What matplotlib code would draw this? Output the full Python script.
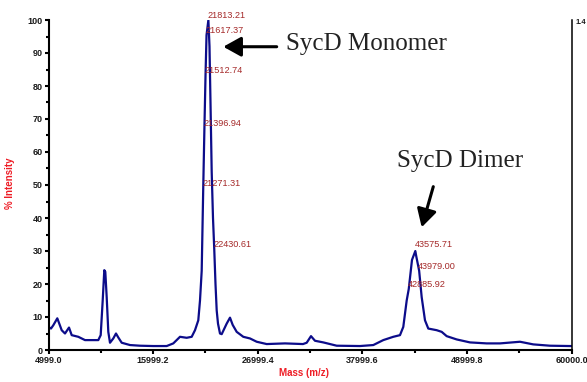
import matplotlib
matplotlib.use("Agg")
import matplotlib.pyplot as plt

# ---- data ----
mass = [4999, 5262, 5504, 5924, 6387, 6734, 7155, 7439, 8133, 8837, 9542, 10236,
        10488, 10699, 10867, 10972, 11119, 11288, 11466, 11813, 12097, 12339, 12697,
        13570, 14621, 16020, 17429, 18123, 18828, 19532, 20058, 20405, 20752, 20931,
        21110, 21271, 21397, 21513, 21617, 21813, 21930, 22035, 22161, 22298, 22431,
        22561, 22687, 22824, 23034, 23213, 23739, 24086, 24370, 24790, 25484, 26189,
        26894, 27945, 29869, 31762, 32151, 32604, 33024, 33897, 35306, 37756, 39155,
        40207, 41258, 41963, 42310, 42668, 42886, 43225, 43576, 43668, 43979, 44245,
        44592, 44939, 45822, 46348, 46874, 47925, 49324, 51080, 52478, 54582, 55980,
        57736, 59839, 60000]
intensity = [7.0, 6.5, 7.5, 9.6, 6.0, 5.0, 6.8, 4.5, 4.0, 3.0, 3.0, 3.0,
             4.5, 15.0, 24.2, 23.7, 16.0, 5.5, 2.2, 3.5, 5.0, 3.8, 2.2,
             1.5, 1.3, 1.2, 1.2, 2.0, 4.0, 3.7, 4.0, 6.0, 9.0, 15.0,
             24.0, 49.0, 67.4, 83.3, 95.4, 100.0, 92.0, 75.0, 54.0, 40.0, 30.5,
             20.0, 12.0, 8.0, 5.0, 4.8, 8.0, 9.8, 7.6, 5.5, 4.0, 3.5,
             2.5, 1.8, 2.0, 1.8, 2.2, 4.2, 2.8, 2.3, 1.3, 1.2, 1.5,
             3.0, 4.0, 4.5, 7.0, 15.0, 18.5, 27.3, 30.0, 28.5, 24.0, 16.0,
             9.0, 6.5, 6.0, 5.5, 4.2, 3.2, 2.3, 2.0, 2.0, 2.5, 1.7,
             1.3, 1.2, 1.2]

peak_masses = [21813.21, 21617.37, 21512.74, 21396.94, 21271.31, 22430.61,
               43575.71, 43979.00, 42885.92]
peak_labels = ["21813.21", "21617.37", "21512.74", "21396.94", "21271.31", "22430.61",
               "43575.71", "43979.00", "42885.92"]
peak_heights = [100.0, 95.4, 83.3, 67.4, 49.0, 30.5, 30.5, 23.9, 18.5]

x_ticks = [4999.0, 15999.2, 26999.4, 37999.6, 48999.8, 60000.0]
x_tick_labels = ["4999.0", "15999.2", "26999.4", "37999.6", "48999.8", "60000.0"]
x_minor = [10499.1, 21499.3, 32499.5, 43499.7, 54499.9]
y_ticks = [0, 10, 20, 30, 40, 50, 60, 70, 80, 90, 100]
y_minor = [5, 15, 25, 35, 45, 55, 65, 75, 85, 95]

# ---- figure ----
W, H = 587, 382
fig = plt.figure(figsize=(W / 100, H / 100), dpi=100)
left, right, top, bottom = 48.5, 571.5, 20, 350
ax = fig.add_axes([left / W, 1 - bottom / H, (right - left) / W, (bottom - top) / H])

navy = "#0c0c8a"
ax.plot(mass, intensity, color=navy, lw=1.6, solid_joinstyle="round")

ax.set_xlim(4999.0, 60000.0)
ax.set_ylim(0, 100)

for s in ["left", "bottom"]:
    ax.spines[s].set_linewidth(1.5)
    ax.spines[s].set_color("black")
ax.spines["right"].set_linewidth(1.1)
ax.spines["right"].set_color("black")
ax.spines["top"].set_visible(False)

tick_font = dict(family="Liberation Sans", weight="bold", size=6.5)
ax.set_xticks(x_ticks)
ax.set_xticklabels(x_tick_labels, **tick_font, color="#1a1a1a")
ax.set_xticks(x_minor, minor=True)
ax.set_yticks(y_ticks)
ax.set_yticklabels([str(v) for v in y_ticks], **tick_font, color="#1a1a1a")
ax.set_yticks(y_minor, minor=True)
ax.tick_params(which="major", direction="out", length=3.0, width=1.5, pad=1.0)
ax.tick_params(which="minor", direction="out", length=2.4, width=1.5)

# right side label (at the figure edge, as in the reference)
fig.text(576 / W, 1 - 23 / H, "1.4", ha="left", va="center",
         family="Liberation Sans", weight="bold", size=5.5, color="#1a1a1a")

# axis titles
fig.text(10 / W, 1 - 183 / H, "% Intensity", rotation=90, ha="center", va="center",
         color="#ee1c25", family="Liberation Sans", weight="bold", size=7)
fig.text(304 / W, 1 - 373.5 / H, "Mass (m/z)", ha="center", va="center",
         color="#ee1c25", family="Liberation Sans", weight="bold", size=7)

# peak labels
for m, lab, h in zip(peak_masses, peak_labels, peak_heights):
    ax.text(m - 100, h, lab, ha="left", va="bottom", color="#a52a2a",
            family="Liberation Sans", size=6.6, clip_on=False)

# annotations
arrow = dict(arrowstyle="-|>,head_length=0.54,head_width=0.3", mutation_scale=20,
             lw=2.2, color="black", shrinkA=0, shrinkB=0)
ax.annotate("", xy=(23381, 91.9), xytext=(28997, 91.9), arrowprops=arrow)
ax.text(29974, 92.7, "SycD Monomer", ha="left", va="center",
        family="Liberation Serif", size=18, color="#222222")
ax.annotate("", xy=(44245, 37.2), xytext=(45465, 49.5), arrowprops=arrow)
ax.text(41679, 57.3, "SycD Dimer", ha="left", va="center",
        family="Liberation Serif", size=18, color="#222222")

fig.savefig("out.png", dpi=100)
